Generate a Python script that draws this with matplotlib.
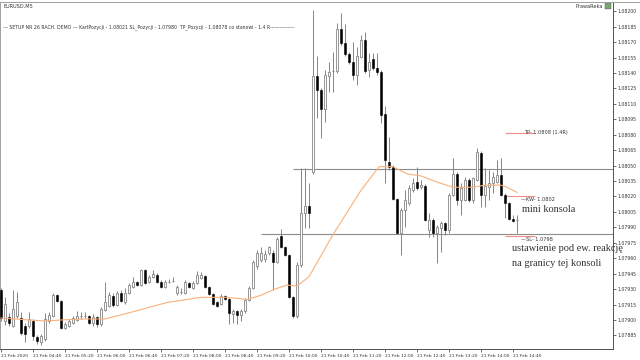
import numpy as np
import matplotlib
matplotlib.use("Agg")
import matplotlib.pyplot as plt
from matplotlib.lines import Line2D
from matplotlib.patches import Rectangle

# EURUSD M5, 21 Feb 2020, one candle every 5 minutes starting 04:00
opens = [1.07929, 1.07899, 1.07903, 1.07894, 1.07904, 1.07902, 1.07894, 1.07894, 1.07899, 1.07883,
         1.07879, 1.07882, 1.07899, 1.07904, 1.07924, 1.07918, 1.07892, 1.07894, 1.07897, 1.07900,
         1.07904, 1.07904, 1.07904, 1.07897, 1.07903, 1.07896, 1.07910, 1.07914, 1.07923, 1.07915,
         1.07926, 1.07917, 1.07926, 1.07932, 1.07937, 1.07934, 1.07949, 1.07937, 1.07942, 1.07944,
         1.07937, 1.07932, 1.07937, 1.07938, 1.07926, 1.07927, 1.07926, 1.07936, 1.07931, 1.07936,
         1.07941, 1.07943, 1.07932, 1.07925, 1.07917, 1.07916, 1.07923, 1.07920, 1.07906, 1.07909,
         1.07905, 1.07909, 1.07919, 1.07931, 1.07952, 1.07958, 1.07959, 1.07965, 1.07965, 1.07956,
         1.07982, 1.07971, 1.07963, 1.07922, 1.07904, 1.07953, 1.08004, 1.08011, 1.08044, 1.08137,
         1.08123, 1.08105, 1.08137, 1.08142, 1.08142, 1.08183, 1.08169, 1.08158, 1.08151, 1.08138,
         1.08156, 1.08172, 1.08143, 1.08154, 1.08145, 1.08141, 1.08100, 1.08054, 1.08049, 1.08018,
         1.07985, 1.08007, 1.08014, 1.08026, 1.08034, 1.08029, 1.08030, 1.07987, 1.07997, 1.07985,
         1.07989, 1.07994, 1.07987, 1.08021, 1.08042, 1.08017, 1.08017, 1.08036, 1.08017, 1.08036,
         1.08062, 1.08021, 1.08029, 1.08033, 1.08034, 1.08041, 1.08021, 1.08014, 1.07998, 1.07997]
highs = [1.07931, 1.07922, 1.07907, 1.07929, 1.07927, 1.07908, 1.07897, 1.07908, 1.07901, 1.07885,
         1.07886, 1.07907, 1.07908, 1.07926, 1.07925, 1.07919, 1.07898, 1.07901, 1.07904, 1.07909,
         1.07908, 1.07908, 1.07905, 1.07906, 1.07904, 1.07913, 1.07937, 1.07927, 1.07926, 1.07928,
         1.07929, 1.07931, 1.07936, 1.07942, 1.07938, 1.07950, 1.07950, 1.07944, 1.07949, 1.07946,
         1.07939, 1.07939, 1.07940, 1.07942, 1.07934, 1.07931, 1.07939, 1.07937, 1.07938, 1.07948,
         1.07947, 1.07944, 1.07933, 1.07926, 1.07918, 1.07925, 1.07924, 1.07921, 1.07911, 1.07910,
         1.07911, 1.07921, 1.07933, 1.07958, 1.07968, 1.07971, 1.07968, 1.07972, 1.07968, 1.07981,
         1.07988, 1.07972, 1.07964, 1.07923, 1.07956, 1.08048, 1.08048, 1.08033, 1.08201, 1.08157,
         1.08125, 1.08143, 1.08151, 1.08160, 1.08189, 1.08198, 1.08188, 1.08160, 1.08170, 1.08165,
         1.08177, 1.08180, 1.08159, 1.08159, 1.08159, 1.08143, 1.08108, 1.08078, 1.08051, 1.08019,
         1.08009, 1.08026, 1.08031, 1.08038, 1.08049, 1.08036, 1.08032, 1.08004, 1.07999, 1.07992,
         1.07996, 1.07995, 1.08023, 1.08057, 1.08044, 1.08033, 1.08039, 1.08038, 1.08039, 1.08067,
         1.08064, 1.08048, 1.08046, 1.08044, 1.08055, 1.08057, 1.08023, 1.08015, 1.08002, 1.08002]
lows = [1.07899, 1.07895, 1.07894, 1.07893, 1.07902, 1.07885, 1.07879, 1.07892, 1.07881, 1.07877,
        1.07876, 1.07880, 1.07897, 1.07903, 1.07917, 1.07891, 1.07891, 1.07893, 1.07896, 1.07899,
        1.07901, 1.07902, 1.07896, 1.07894, 1.07893, 1.07894, 1.07909, 1.07913, 1.07913, 1.07914,
        1.07917, 1.07916, 1.07925, 1.07931, 1.07933, 1.07933, 1.07935, 1.07936, 1.07941, 1.07936,
        1.07931, 1.07931, 1.07936, 1.07937, 1.07924, 1.07925, 1.07925, 1.07931, 1.07930, 1.07935,
        1.07940, 1.07931, 1.07924, 1.07915, 1.07913, 1.07915, 1.07919, 1.07896, 1.07897, 1.07896,
        1.07899, 1.07907, 1.07918, 1.07930, 1.07950, 1.07956, 1.07956, 1.07963, 1.07929, 1.07955,
        1.07970, 1.07962, 1.07921, 1.07902, 1.07902, 1.07951, 1.07989, 1.07989, 1.08042, 1.08096,
        1.08077, 1.08092, 1.08122, 1.08122, 1.08140, 1.08167, 1.08157, 1.08149, 1.08133, 1.08128,
        1.08155, 1.08140, 1.08136, 1.08143, 1.08138, 1.08091, 1.08033, 1.08046, 1.08017, 1.07984,
        1.07963, 1.07990, 1.08012, 1.08024, 1.08026, 1.08027, 1.07996, 1.07981, 1.07981, 1.07955,
        1.07966, 1.07983, 1.07985, 1.08020, 1.08012, 1.08002, 1.08016, 1.08015, 1.08014, 1.08035,
        1.08010, 1.08010, 1.08017, 1.08023, 1.08033, 1.08020, 1.07999, 1.07997, 1.07995, 1.07985]
closes = [1.07902, 1.07916, 1.07897, 1.07911, 1.07917, 1.07887, 1.07886, 1.07901, 1.07884, 1.07880,
          1.07884, 1.07901, 1.07905, 1.07924, 1.07918, 1.07892, 1.07896, 1.07899, 1.07902, 1.07904,
          1.07904, 1.07903, 1.07897, 1.07903, 1.07896, 1.07911, 1.07917, 1.07924, 1.07915, 1.07926,
          1.07918, 1.07926, 1.07934, 1.07937, 1.07934, 1.07949, 1.07936, 1.07942, 1.07945, 1.07937,
          1.07932, 1.07937, 1.07938, 1.07939, 1.07932, 1.07928, 1.07937, 1.07932, 1.07936, 1.07944,
          1.07944, 1.07932, 1.07925, 1.07916, 1.07914, 1.07923, 1.07920, 1.07907, 1.07909, 1.07905,
          1.07909, 1.07919, 1.07931, 1.07956, 1.07965, 1.07965, 1.07964, 1.07971, 1.07956, 1.07979,
          1.07971, 1.07963, 1.07922, 1.07904, 1.07953, 1.08004, 1.08011, 1.08004, 1.08137, 1.08123,
          1.08105, 1.08138, 1.08141, 1.08141, 1.08183, 1.08169, 1.08158, 1.08151, 1.08138, 1.08157,
          1.08172, 1.08142, 1.08151, 1.08145, 1.08141, 1.08099, 1.08055, 1.08049, 1.08018, 1.07985,
          1.08007, 1.08017, 1.08028, 1.08033, 1.08028, 1.08031, 1.07997, 1.07997, 1.07985, 1.07990,
          1.07994, 1.07987, 1.08021, 1.08042, 1.08017, 1.08028, 1.08036, 1.08017, 1.08038, 1.08063,
          1.08021, 1.08030, 1.08033, 1.08039, 1.08041, 1.08021, 1.08014, 1.07998, 1.07996, 1.07997]

# moving average (candle index, price)
ma_idx = [0, 7, 11, 15, 21, 26, 33, 41.5, 50, 56.5, 61.5, 65, 68.5, 71.5, 74, 77, 83, 90,
          94.5, 98, 101.5, 105, 109, 113, 118, 121, 125, 126.5, 129]
ma_val = [1.07902, 1.07900, 1.07899, 1.07900, 1.07901, 1.07901, 1.07908, 1.07917, 1.07922,
          1.07922, 1.07920, 1.07924, 1.07930, 1.07934, 1.07933, 1.07942, 1.07983, 1.08026,
          1.08049, 1.08049, 1.08042, 1.08040, 1.08034, 1.08029, 1.08029, 1.08031, 1.08031,
          1.08029, 1.08024]

# range ("konsola") borders and position levels
range_top = 1.08047
range_top_from = 73
range_bottom = 1.07984
range_bottom_from = 65
tp_level, kw_level, sl_level = 1.08082, 1.08020, 1.07982
level_from, level_to = 126, 133.5

price_ticks = [1.07885, 1.07900, 1.07915, 1.07930, 1.07945, 1.07960, 1.07975, 1.07990, 1.08005,
               1.08020, 1.08035, 1.08050, 1.08065, 1.08080, 1.08095, 1.08110, 1.08125, 1.08140,
               1.08155, 1.08170, 1.08185, 1.08200]
time_ticks = [0, 8, 16, 24, 32, 40, 48, 56, 64, 72, 80, 88, 96, 104, 112, 120, 128]
time_labels = ["21 Feb 2020", "21 Feb 04:40", "21 Feb 05:20", "21 Feb 06:00", "21 Feb 06:40",
               "21 Feb 07:20", "21 Feb 08:00", "21 Feb 08:40", "21 Feb 09:20", "21 Feb 10:00",
               "21 Feb 10:40", "21 Feb 11:20", "21 Feb 12:00", "21 Feb 12:40", "21 Feb 13:20",
               "21 Feb 14:00", "21 Feb 14:40"]

fig = plt.figure(figsize=(6.4, 3.6), dpi=100)
ax = fig.add_axes([0, 11 / 360, 613 / 640, 347 / 360])

wick_col = "#858585"
w = 0.36
for i in range(len(opens)):
    o, h, l, c = opens[i], highs[i], lows[i], closes[i]
    ax.vlines(i, l, h, color=wick_col, lw=0.7, zorder=2)
    if abs(c - o) < 0.000015:
        ax.hlines(o, i - w, i + w, color=wick_col, lw=0.8, zorder=3)
    elif c > o:
        ax.bar(i, c - o, bottom=o, width=2 * w, facecolor="white", edgecolor=wick_col,
               linewidth=0.6, zorder=3)
    else:
        ax.bar(i, o - c, bottom=c, width=2 * w, facecolor="black", edgecolor="black",
               linewidth=0.4, zorder=3)

ax.plot(ma_idx, ma_val, color="#f9b07a", lw=0.8, zorder=4)

ax.hlines(range_top, range_top_from, 153, color="#8c8c8c", lw=0.8, zorder=1)
ax.hlines(range_bottom, range_bottom_from, 153, color="#8c8c8c", lw=0.8, zorder=1)
for lv in (tp_level, kw_level, sl_level):
    ax.hlines(lv, level_from, level_to, color="#f08c8c", lw=0.8, zorder=1)

small = dict(fontsize=3.6, color="#333333", va="center")
ax.text(130.8, tp_level, "TP- 1.0808 (1.4R)", **small)
ax.text(130.0, kw_level - 0.00003, "\u2014KW- 1.0802", **small)
ax.text(130.0, sl_level - 0.00004, "\u2014SL- 1.0798", **small)

serif = dict(family="Liberation Serif", fontsize=7.4, color="#333333", va="center")
ax.text(130.3, 1.08007, "mini konsola", **serif)
ax.text(127.8, 1.07969, "ustawienie pod ew. reakcję", **serif)
ax.text(127.8, 1.07955, "na granicy tej konsoli", **serif)

ax.set_xlim(-0.25, 153)
ax.set_ylim(1.078718, 1.082090)

ax.yaxis.tick_right()
ax.set_yticks(price_ticks)
ax.set_yticklabels([f"{p:.5f}" for p in price_ticks])
ax.tick_params(axis="y", direction="out", length=2.5, width=0.5, labelsize=3.3, pad=1,
               colors="#333333")
ax.set_xticks(time_ticks)
ax.set_xticklabels(time_labels, ha="left")
ax.tick_params(axis="x", direction="out", length=2, width=0.5, labelsize=3.2, pad=1.5,
               colors="#333333")

for side in ("left", "top"):
    ax.spines[side].set_color("#a0a0a0")
    ax.spines[side].set_linewidth(0.7)
for side in ("right", "bottom"):
    ax.spines[side].set_color("#505050")
    ax.spines[side].set_linewidth(0.7)

# window frame line across the full width at the top
fig.add_artist(Line2D([0, 1], [1 - 2 / 360, 1 - 2 / 360], color="#a0a0a0", lw=0.7))

fig.text(3 / 640, 1 - 6 / 360, "EURUSD,M5", fontsize=3.6, color="#333333", va="center")
fig.text(3 / 640, 1 - 27 / 360,
         "--- SETUP NR 26 RACH. DEMO --- KartPozycji - 1.08021 SL_Pozycji - 1.07980  "
         "TP_Pozycji - 1.08078 co stanowi - 1.4 R---------------",
         fontsize=3.3, color="#333333", va="center")
fig.text(603 / 640, 1 - 6 / 360, "PrawaReka", fontsize=3.6, color="#333333", va="center",
         ha="right")
fig.add_artist(Rectangle((605 / 640, 1 - 9 / 360), 6 / 640, 6 / 360,
                         facecolor="#7aa86a", edgecolor="#555555", lw=0.3))

fig.savefig("out.png", dpi=100)
